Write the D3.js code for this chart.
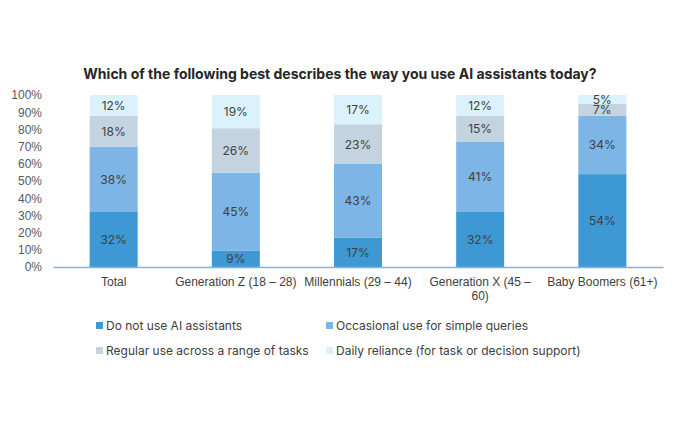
<!DOCTYPE html>
<html>
<head>
<meta charset="utf-8">
<script src="https://cdn.jsdelivr.net/npm/d3@7"></script>
<style>
  body { margin: 0; background: #fff; }
  svg { font-family: Inter, "Liberation Sans", sans-serif; }
</style>
</head>
<body>
<svg id="chart" width="680" height="424"></svg>
<script>
const categories = ['Total', 'Generation Z (18 – 28)', 'Millennials (29 – 44)', 'Generation X (45 – 60)', 'Baby Boomers (61+)'];
const seriesNames = ['Do not use AI assistants', 'Occasional use for simple queries', 'Regular use across a range of tasks', 'Daily reliance (for task or decision support)'];
// shares in %, labels are rounded
const notUse = [32, 9.4, 17, 32, 54];
const occasional = [38, 45.4, 43, 41, 34];
const regular = [18, 25.9, 23, 15, 7];
const daily = [12, 19.3, 17, 12, 5];
const yTicks = [0, 10, 20, 30, 40, 50, 60, 70, 80, 90, 100];
const colors = ['#3d98d3', '#7db5e6', '#c4d3e0', '#dbf2fd'];

const margin = { top: 95, right: 17, bottom: 157, left: 53 };
const width = 680 - margin.left - margin.right;
const height = 424 - margin.top - margin.bottom;

const svg = d3.select('#chart');

svg.append('text')
  .attr('x', 340)
  .attr('y', 79)
  .attr('text-anchor', 'middle')
  .attr('font-size', '14px')
  .attr('font-weight', 'bold')
  .attr('fill', '#262626')
  .text('Which of the following best describes the way you use AI assistants today?');

const chart = svg.append('g').attr('transform', `translate(${margin.left},${margin.top})`);

const keys = ['notUse', 'occasional', 'regular', 'daily'];
const table = categories.map((c, i) => ({
  cat: c, notUse: notUse[i], occasional: occasional[i], regular: regular[i], daily: daily[i]
}));
const stacked = d3.stack().keys(keys)(table);

const x = d3.scaleBand().domain(categories).range([0, width]).paddingInner(0.607).paddingOuter(0.3);
const y = d3.scaleLinear().domain([0, 100]).range([height, 0]);

// y axis labels
chart.append('g')
  .call(d3.axisLeft(y).tickValues(yTicks).tickFormat(d => d + '%').tickSize(0).tickPadding(11))
  .call(g => g.select('.domain').remove())
  .selectAll('text')
  .attr('font-size', '12px')
  .attr('fill', '#595959');

// bars
chart.selectAll('.layer')
  .data(stacked)
  .enter()
  .append('g')
  .attr('fill', (d, i) => colors[i])
  .selectAll('rect')
  .data(d => d)
  .enter()
  .append('rect')
  .attr('x', d => x(d.data.cat))
  .attr('y', d => y(d[1]))
  .attr('width', x.bandwidth())
  .attr('height', d => y(d[0]) - y(d[1]));

// value labels
stacked.forEach((layer, li) => {
  chart.selectAll('.lbl' + li)
    .data(layer)
    .enter()
    .append('text')
    .attr('x', d => x(d.data.cat) + x.bandwidth() / 2)
    .attr('y', d => (y(d[0]) + y(d[1])) / 2 + 4.5)
    .attr('text-anchor', 'middle')
    .attr('font-size', '12px')
    .attr('fill', '#404040')
    .text(d => Math.round(d[1] - d[0]) + '%');
});

// x axis
const xAxis = chart.append('g')
  .attr('transform', `translate(0,${height})`)
  .call(d3.axisBottom(x).tickSize(0).tickPadding(10));
xAxis.select('.domain').attr('stroke', '#7db5e6').attr('stroke-width', 1.5);
xAxis.selectAll('text')
  .attr('font-size', '12px')
  .attr('fill', '#404040')
  .each(function (d) {
    const t = d3.select(this);
    if (d === 'Generation X (45 – 60)') {
      t.text(null);
      t.append('tspan').attr('x', 0).attr('dy', '0.71em').text('Generation X (45 –');
      t.append('tspan').attr('x', 0).attr('dy', '1.2em').text('60)');
      t.attr('dy', null);
    }
  });

// legend
const legendPos = [[96, 326], [326, 326], [96, 351], [326, 351]];
const legend = svg.append('g');
seriesNames.forEach((name, i) => {
  const [lx, ly] = legendPos[i];
  legend.append('rect')
    .attr('x', lx).attr('y', ly - 4)
    .attr('width', 7).attr('height', 7)
    .attr('fill', colors[i]);
  legend.append('text')
    .attr('x', lx + 10).attr('y', ly + 4)
    .attr('font-size', '12px')
    .attr('fill', '#404040')
    .text(name);
});
</script>
</body>
</html>
